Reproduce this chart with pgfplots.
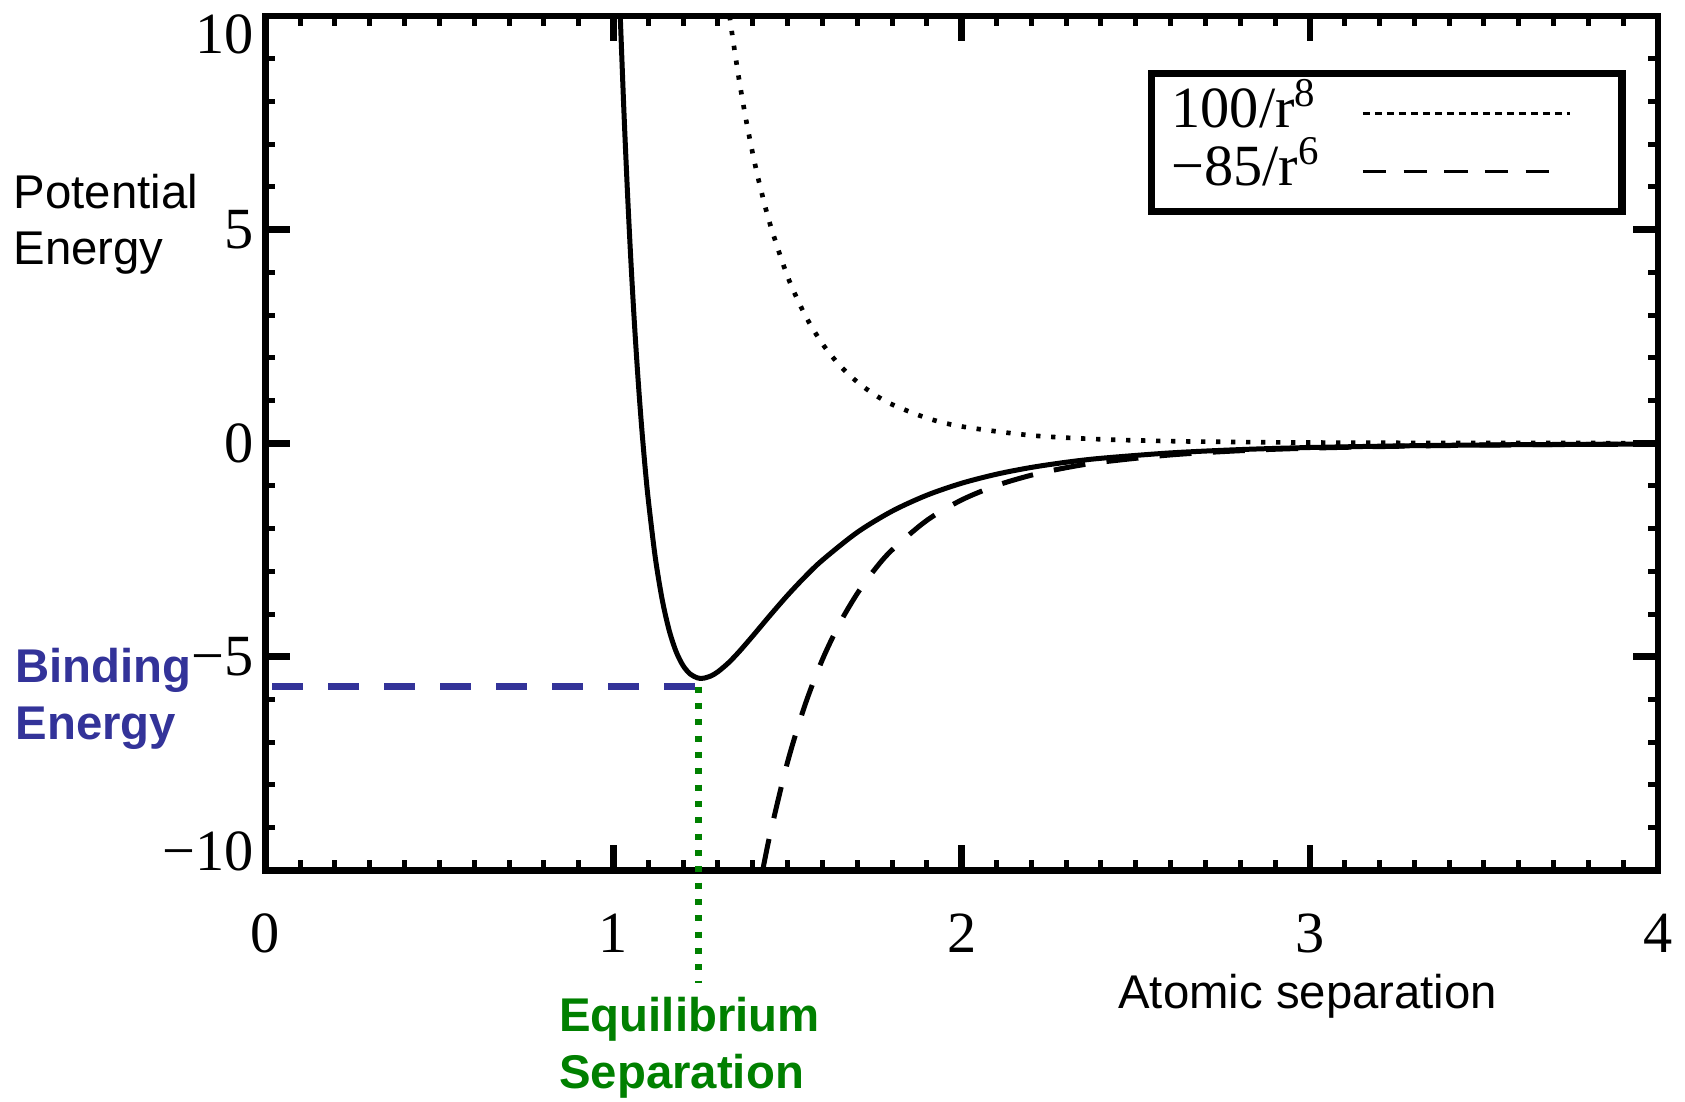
\documentclass[border=0pt]{standalone}
\usepackage{fontspec}
\setmainfont{Liberation Serif}
\newfontfamily\arial{Liberation Sans}
\usepackage{pgfplots}
\pgfplotsset{compat=1.18}
\definecolor{blueBE}{RGB}{51,51,153}
\definecolor{greenEQ}{RGB}{0,128,0}
\begin{document}
\begin{tikzpicture}
\begin{axis}[
  at={(0,0)}, anchor=south west,
  scale only axis, width=417.8pt, height=256.3pt,
  xmin=0, xmax=4, ymin=-10, ymax=10,
  xtick={0,1,2,3,4}, xticklabels={0,1,2,3,4},
  ytick={-10,-5,0,5,10},
  yticklabels={\raisebox{-0.1pt}[0pt][0pt]{−10},−5,0,5,\raisebox{-11.1pt}[0pt][0pt]{10}},
  minor x tick num=9, minor y tick num=4,
  tick align=inside, xtick pos=both, ytick pos=both,
  major tick length=7.5pt, minor tick length=3pt,
  every major tick/.append style={line width=2pt, black},
  every minor tick/.append style={line width=1.5pt, black},
  axis line style={line width=2pt},
  tick label style={font=\fontsize{17.5}{17.5}\selectfont},
  yticklabel style={inner ysep=0pt},
  xticklabel style={anchor=base, yshift=-24.7pt},
  clip=false,
  legend plot pos=right,
  legend style={at={(0.977,0.937)}, anchor=north east, draw=black, line width=2.3pt,
    fill=white, font=\fontsize{17.5}{17.5}\selectfont, inner xsep=6pt, inner ysep=4pt,
    row sep=1.5pt,
    nodes={inner sep=0pt, text height=12pt, text depth=3.9pt},
    cells={anchor=west}},
]
\addplot[black, line width=1.4pt, dash pattern=on 1.3pt off 3.2pt, smooth,
  legend image code/.code={\draw[line width=0.9pt, dash pattern=on 2pt off 1.6pt] (12pt,0pt) -- (74pt,0pt); \path (0pt,0pt) (83pt,0pt);}]
coordinates {
(1.3335,10.0) (1.34,9.6197) (1.36,8.5445) (1.38,7.6027) (1.40,6.7760) (1.42,6.0491)
(1.45,5.1175) (1.50,3.9018) (1.55,3.0016) (1.60,2.3283) (1.65,1.8202) (1.70,1.4335)
(1.75,1.1368) (1.80,0.9074) (1.90,0.5888) (2.0,0.3906) (2.2,0.1822) (2.4,0.0908)
(2.6,0.0479) (2.8,0.0265) (3.0,0.0152) (3.3,0.0071) (3.6,0.0035) (4.0,0.0015)
};
\addlegendentry{100/r\textsuperscript{8}}
\addplot[black, line width=1.5pt, dash pattern=on 9.6pt off 6.4pt, smooth,
  legend image code/.code={\draw[line width=1pt, dash pattern=on 7pt off 5.2pt] (12pt,0pt) -- (67.8pt,0pt); \path (0pt,0pt) (83pt,0pt);}]
coordinates {
(1.4286,-10.0) (1.45,-9.1456) (1.50,-7.4622) (1.55,-6.1295) (1.60,-5.0664) (1.65,-4.2122)
(1.70,-3.5215) (1.75,-2.9594) (1.80,-2.4991) (1.90,-1.8068) (2.0,-1.3281) (2.1,-0.9911)
(2.2,-0.7497) (2.3,-0.5742) (2.4,-0.4448) (2.6,-0.2751) (2.8,-0.1764) (3.0,-0.1166)
(3.3,-0.0658) (3.6,-0.0390) (4.0,-0.0208)
};
\addlegendentry{−85/r\textsuperscript{6}}
\addplot[black, line width=1.5pt, smooth, forget plot]
coordinates {
(1.0194,10.0) (1.03,7.7548) (1.04,5.8922) (1.05,4.2556) (1.06,2.8196) (1.07,1.5618)
(1.08,0.4625) (1.09,-0.4961) (1.10,-1.3296) (1.12,-2.6753) (1.14,-3.6689) (1.16,-4.3850)
(1.18,-4.8829) (1.20,-5.2095) (1.22,-5.4025) (1.24,-5.4917) (1.2524,-5.5055) (1.26,-5.5009)
(1.28,-5.4490) (1.30,-5.3510) (1.33,-5.1433) (1.36,-4.8888) (1.40,-4.5128) (1.45,-4.0281)
(1.50,-3.5604) (1.55,-3.1280) (1.60,-2.7381) (1.70,-2.0879) (1.80,-1.5917) (1.90,-1.2179)
(2.0,-0.9375) (2.1,-0.7267) (2.2,-0.5675) (2.3,-0.4465) (2.4,-0.3539) (2.6,-0.2273)
(2.8,-0.1499) (3.0,-0.1014) (3.3,-0.0587) (3.6,-0.0355) (4.0,-0.0192)
};
\addplot[blueBE, line width=2.1pt, dash pattern=on 9.3pt off 7.5pt, forget plot]
coordinates {(0.02,-5.7) (1.245,-5.7)};
\addplot[greenEQ, line width=2pt, dash pattern=on 1.8pt off 3.1pt, forget plot]
coordinates {(1.245,-5.7) (1.245,-12.64)};
\end{axis}
\node[anchor=base west, inner sep=0pt, font=\arial\fontsize{14.2}{14.2}\selectfont] at (-75.7pt,198.7pt) {Potential};
\node[anchor=base west, inner sep=0pt, font=\arial\fontsize{14.2}{14.2}\selectfont] at (-75.7pt,181.9pt) {Energy};
\node[anchor=base west, inner sep=0pt, text=blueBE, font=\arial\bfseries\fontsize{14.2}{14.2}\selectfont] at (-75.1pt,56.4pt) {Binding};
\node[anchor=base west, inner sep=0pt, text=blueBE, font=\arial\bfseries\fontsize{14.2}{14.2}\selectfont] at (-75.1pt,39.3pt) {Energy};
\node[anchor=base west, inner sep=0pt, text=greenEQ, font=\arial\bfseries\fontsize{14.2}{14.2}\selectfont] at (88.0pt,-48.4pt) {Equilibrium};
\node[anchor=base west, inner sep=0pt, text=greenEQ, font=\arial\bfseries\fontsize{14.2}{14.2}\selectfont] at (88.0pt,-65.5pt) {Separation};
\node[anchor=base west, inner sep=0pt, font=\arial\fontsize{14.2}{14.2}\selectfont] at (255.7pt,-41.3pt) {Atomic separation};
\path (-79.6pt,-69.2pt) rectangle (425.9pt,261.1pt);
\end{tikzpicture}
\end{document}
